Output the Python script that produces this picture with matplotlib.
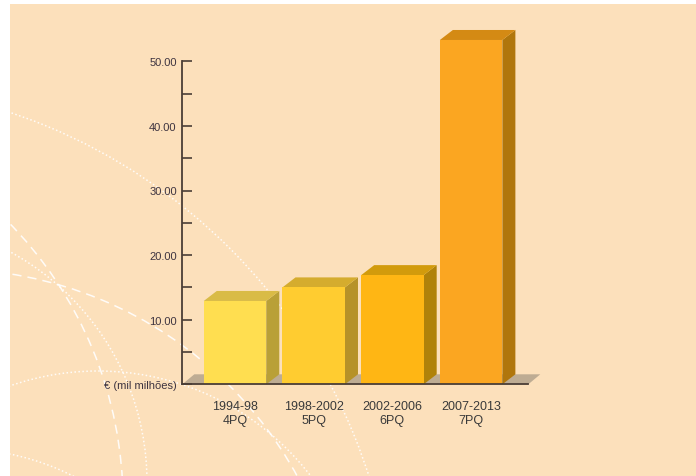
import numpy as np
import matplotlib
matplotlib.use('Agg')
import matplotlib.pyplot as plt
from matplotlib.patches import Polygon, Rectangle, Arc

plt.rcParams['font.family'] = ['Liberation Sans', 'DejaVu Sans']

# funding per framework programme (thousand million euro)
periods = ['1994-98', '1998-2002', '2002-2006', '2007-2013']
programmes = ['4PQ', '5PQ', '6PQ', '7PQ']
budget = [12.9, 15.0, 16.9, 53.3]
ytick_vals = [0, 10, 20, 30, 40, 50]
ytick_labels = ['€ (mil milhões)', '10.00', '20.00', '30.00', '40.00', '50.00']

front_colors = ['#FFDE50', '#FFCC30', '#FFB614', '#FBA621']
top_colors = ['#D9BB46', '#D5AC2E', '#D29B0C', '#D48A14']
side_colors = ['#B9A037', '#B69228', '#B0820A', '#B0760C']

W, H = 696, 477
fig = plt.figure(figsize=(W / 100, H / 100), dpi=100)
fig.patch.set_facecolor('white')

# background panel with the white decorative circles, in pixel units
bg = fig.add_axes([0, 0, 1, 1], zorder=0)
bg.set_xlim(0, W)
bg.set_ylim(H, 0)
bg.axis('off')
panel = Rectangle((10, 5), W - 10, H - 5, facecolor='#FCE0BB', edgecolor='none')
bg.add_patch(panel)

dotted = (0, (1, 1.6))
dashed = (0, (6, 4))
circles = [(-170, 650, 566, dotted),
           (-276, 503, 399, dashed),
           (-115, 483, 262, dotted),
           (-52, 668, 398, dashed),
           (98, 640, 268, dotted),
           (-40, 700, 250, dotted)]
for cx, cy, r, ls in circles:
    arc = Arc((cx, cy), 2 * r, 2 * r, theta1=0, theta2=360, color='white',
              lw=1.1, linestyle=ls, alpha=0.9)
    bg.add_patch(arc)
    arc.set_clip_path(panel)

# chart area
ax = fig.add_axes([182.3 / W, (H - 385.3) / H, 346 / W, 323 / H], zorder=1)
ax.patch.set_alpha(0)

ppx = 78.7   # pixels per category step
ppy = 6.46   # pixels per unit
xl, xr = -0.670, -0.670 + 346 / ppx
bw = 62.5 / ppx
dx, dy = 13 / ppx, 10 / ppy

ax.set_xlim(xl, xr)
ax.set_ylim(0, 50)

# floor
floor = Polygon([(xl, 0), (xr, 0), (xr + 12 / ppx, dy), (xl + 12 / ppx, dy)],
                closed=True, facecolor='#BEAC93', edgecolor='none',
                zorder=1, clip_on=False)
ax.add_patch(floor)

x = np.arange(len(budget))
ax.bar(x, budget, width=bw, color=front_colors, zorder=3, clip_on=False)
for i, v in enumerate(budget):
    left, right = x[i] - bw / 2, x[i] + bw / 2
    side = Polygon([(right, 0), (right, v), (right + dx, v + dy), (right + dx, dy)],
                   closed=True, facecolor=side_colors[i], edgecolor='none',
                   zorder=2, clip_on=False)
    top = Polygon([(left, v), (right, v), (right + dx, v + dy), (left + dx, v + dy)],
                  closed=True, facecolor=top_colors[i], edgecolor='none',
                  zorder=2, clip_on=False)
    ax.add_patch(side)
    ax.add_patch(top)

axis_col = '#4B3E36'
for s in ['top', 'right']:
    ax.spines[s].set_visible(False)
ax.spines['left'].set_bounds(0, 50)
for s in ['left', 'bottom']:
    ax.spines[s].set_color(axis_col)
    ax.spines[s].set_linewidth(1.3)
    ax.spines[s].set_zorder(4)

ax.set_yticks(ytick_vals)
ax.set_yticklabels(ytick_labels)
ax.set_yticks(np.arange(5, 50, 10), minor=True)
ax.tick_params(axis='y', which='both', direction='in', length=7.5, width=1.2,
               color=axis_col, labelsize=8, labelcolor='#3E3440', pad=4)

ax.set_xticks(x)
ax.set_xticklabels([f'{p}\n{q}' for p, q in zip(periods, programmes)],
                   linespacing=1.3)
ax.tick_params(axis='x', length=0, pad=11, labelsize=9, labelcolor='#3A3A3A')

fig.savefig('out.png', dpi=100)
